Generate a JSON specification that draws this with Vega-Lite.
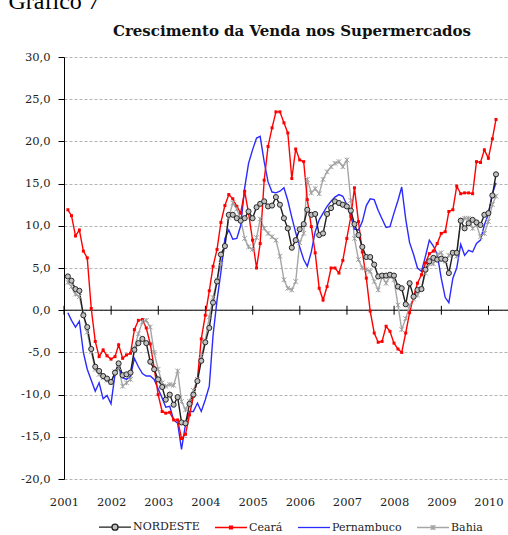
{
"$schema": "https://vega.github.io/schema/vega-lite/v6.json",
"width": 444, "height": 422,
"autosize": "none",
"padding": {"left": 64, "top": 57, "right": 0, "bottom": 56},
"background": "white",
"config": {"view": {"stroke": null}, "font": "DejaVu Serif"},
"title": {"text": "Crescimento da Venda nos Supermercados", "font": "DejaVu Serif", "fontSize": 15, "fontWeight": "bold", "color": "#111", "anchor": "middle", "dx": 6, "offset": -50},
"data": {"values": [
{"d":"2001-01-31","NORDESTE":4.0,"Ceará":11.9,"Pernambuco":-0.3,"Bahia":3.3},
{"d":"2001-02-28","NORDESTE":3.5,"Ceará":11.2,"Pernambuco":-1.2,"Bahia":2.8},
{"d":"2001-03-31","NORDESTE":2.5,"Ceará":8.8,"Pernambuco":-2.0,"Bahia":1.9},
{"d":"2001-04-30","NORDESTE":2.3,"Ceará":9.5,"Pernambuco":-1.3,"Bahia":1.6},
{"d":"2001-05-31","NORDESTE":-0.6,"Ceará":7.0,"Pernambuco":-5.0,"Bahia":-0.5},
{"d":"2001-06-30","NORDESTE":-2.0,"Ceará":6.2,"Pernambuco":-7.0,"Bahia":-2.6},
{"d":"2001-07-31","NORDESTE":-4.6,"Ceará":0.2,"Pernambuco":-8.3,"Bahia":-4.9},
{"d":"2001-08-31","NORDESTE":-6.7,"Ceará":-3.7,"Pernambuco":-9.6,"Bahia":-7.0},
{"d":"2001-09-30","NORDESTE":-7.2,"Ceará":-5.5,"Pernambuco":-8.6,"Bahia":-7.6},
{"d":"2001-10-31","NORDESTE":-7.8,"Ceará":-4.7,"Pernambuco":-10.5,"Bahia":-8.0},
{"d":"2001-11-30","NORDESTE":-8.1,"Ceará":-5.4,"Pernambuco":-10.1,"Bahia":-8.3},
{"d":"2001-12-31","NORDESTE":-8.5,"Ceará":-5.8,"Pernambuco":-11.1,"Bahia":-8.6},
{"d":"2002-01-31","NORDESTE":-7.4,"Ceará":-5.5,"Pernambuco":-7.6,"Bahia":-7.3},
{"d":"2002-02-28","NORDESTE":-6.3,"Ceará":-4.1,"Pernambuco":-6.7,"Bahia":-6.8},
{"d":"2002-03-31","NORDESTE":-7.7,"Ceará":-5.7,"Pernambuco":-8.0,"Bahia":-9.0},
{"d":"2002-04-30","NORDESTE":-7.6,"Ceará":-5.3,"Pernambuco":-8.2,"Bahia":-8.6},
{"d":"2002-05-31","NORDESTE":-7.4,"Ceará":-5.1,"Pernambuco":-7.8,"Bahia":-8.2},
{"d":"2002-06-30","NORDESTE":-4.7,"Ceará":-2.3,"Pernambuco":-5.7,"Bahia":-4.5},
{"d":"2002-07-31","NORDESTE":-3.9,"Ceará":-1.2,"Pernambuco":-6.7,"Bahia":-2.8},
{"d":"2002-08-31","NORDESTE":-3.4,"Ceará":-1.1,"Pernambuco":-7.5,"Bahia":-1.4},
{"d":"2002-09-30","NORDESTE":-3.9,"Ceará":-2.1,"Pernambuco":-7.8,"Bahia":-1.2},
{"d":"2002-10-31","NORDESTE":-6.1,"Ceará":-4.0,"Pernambuco":-7.8,"Bahia":-2.0},
{"d":"2002-11-30","NORDESTE":-7.0,"Ceará":-6.8,"Pernambuco":-8.2,"Bahia":-5.0},
{"d":"2002-12-31","NORDESTE":-8.2,"Ceará":-10.0,"Pernambuco":-9.3,"Bahia":-7.0},
{"d":"2003-01-31","NORDESTE":-9.1,"Ceará":-12.0,"Pernambuco":-10.4,"Bahia":-8.6},
{"d":"2003-02-28","NORDESTE":-10.6,"Ceará":-12.2,"Pernambuco":-11.5,"Bahia":-9.0},
{"d":"2003-03-31","NORDESTE":-10.0,"Ceará":-12.1,"Pernambuco":-11.4,"Bahia":-8.8},
{"d":"2003-04-30","NORDESTE":-11.2,"Ceará":-13.0,"Pernambuco":-13.0,"Bahia":-8.9},
{"d":"2003-05-31","NORDESTE":-10.3,"Ceará":-13.0,"Pernambuco":-13.4,"Bahia":-7.2},
{"d":"2003-06-30","NORDESTE":-13.3,"Ceará":-15.2,"Pernambuco":-16.5,"Bahia":-10.8},
{"d":"2003-07-31","NORDESTE":-13.4,"Ceará":-14.7,"Pernambuco":-13.5,"Bahia":-11.8},
{"d":"2003-08-31","NORDESTE":-11.1,"Ceará":-12.4,"Pernambuco":-12.0,"Bahia":-10.8},
{"d":"2003-09-30","NORDESTE":-10.0,"Ceará":-10.2,"Pernambuco":-12.0,"Bahia":-9.5},
{"d":"2003-10-31","NORDESTE":-8.4,"Ceará":-8.2,"Pernambuco":-11.0,"Bahia":-8.2},
{"d":"2003-11-30","NORDESTE":-6.0,"Ceará":-3.4,"Pernambuco":-12.0,"Bahia":-5.4},
{"d":"2003-12-31","NORDESTE":-3.8,"Ceará":-0.6,"Pernambuco":-10.6,"Bahia":-3.6},
{"d":"2004-01-31","NORDESTE":-2.1,"Ceará":2.3,"Pernambuco":-9.0,"Bahia":-0.8},
{"d":"2004-02-29","NORDESTE":0.9,"Ceará":5.2,"Pernambuco":-3.0,"Bahia":1.5},
{"d":"2004-03-31","NORDESTE":3.4,"Ceará":7.2,"Pernambuco":1.2,"Bahia":3.6},
{"d":"2004-04-30","NORDESTE":6.6,"Ceará":10.4,"Pernambuco":4.5,"Bahia":5.5},
{"d":"2004-05-31","NORDESTE":7.6,"Ceará":12.4,"Pernambuco":8.5,"Bahia":7.5},
{"d":"2004-06-30","NORDESTE":11.3,"Ceará":13.7,"Pernambuco":9.5,"Bahia":11.0},
{"d":"2004-07-31","NORDESTE":11.3,"Ceará":13.2,"Pernambuco":8.4,"Bahia":12.7},
{"d":"2004-08-31","NORDESTE":10.9,"Ceará":12.3,"Pernambuco":8.5,"Bahia":12.0},
{"d":"2004-09-30","NORDESTE":10.6,"Ceará":11.5,"Pernambuco":10.0,"Bahia":10.8},
{"d":"2004-10-31","NORDESTE":10.9,"Ceará":14.1,"Pernambuco":14.5,"Bahia":8.5},
{"d":"2004-11-30","NORDESTE":11.7,"Ceará":11.5,"Pernambuco":17.4,"Bahia":7.5},
{"d":"2004-12-31","NORDESTE":10.9,"Ceará":8.3,"Pernambuco":19.0,"Bahia":7.2},
{"d":"2005-01-31","NORDESTE":12.2,"Ceará":5.0,"Pernambuco":20.4,"Bahia":8.6},
{"d":"2005-02-28","NORDESTE":12.6,"Ceará":7.9,"Pernambuco":20.6,"Bahia":10.8},
{"d":"2005-03-31","NORDESTE":12.9,"Ceará":15.4,"Pernambuco":17.6,"Bahia":9.7},
{"d":"2005-04-30","NORDESTE":12.3,"Ceará":19.4,"Pernambuco":15.2,"Bahia":9.1},
{"d":"2005-05-31","NORDESTE":12.4,"Ceará":21.6,"Pernambuco":14.0,"Bahia":8.7},
{"d":"2005-06-30","NORDESTE":13.4,"Ceará":23.5,"Pernambuco":13.9,"Bahia":8.3},
{"d":"2005-07-31","NORDESTE":12.5,"Ceará":23.5,"Pernambuco":14.1,"Bahia":6.4},
{"d":"2005-08-31","NORDESTE":10.9,"Ceará":22.2,"Pernambuco":14.5,"Bahia":3.6},
{"d":"2005-09-30","NORDESTE":9.7,"Ceará":21.0,"Pernambuco":13.0,"Bahia":2.6},
{"d":"2005-10-31","NORDESTE":7.4,"Ceará":15.6,"Pernambuco":11.0,"Bahia":2.4},
{"d":"2005-11-30","NORDESTE":8.3,"Ceará":19.1,"Pernambuco":9.2,"Bahia":3.4},
{"d":"2005-12-31","NORDESTE":9.6,"Ceará":17.8,"Pernambuco":7.5,"Bahia":8.0},
{"d":"2006-01-31","NORDESTE":10.2,"Ceará":17.6,"Pernambuco":6.0,"Bahia":9.1},
{"d":"2006-02-28","NORDESTE":11.9,"Ceará":13.1,"Pernambuco":5.2,"Bahia":15.5},
{"d":"2006-03-31","NORDESTE":11.3,"Ceará":9.9,"Pernambuco":6.9,"Bahia":13.9},
{"d":"2006-04-30","NORDESTE":11.4,"Ceará":6.8,"Pernambuco":9.3,"Bahia":14.4},
{"d":"2006-05-31","NORDESTE":8.9,"Ceará":2.6,"Pernambuco":10.7,"Bahia":13.8},
{"d":"2006-06-30","NORDESTE":9.1,"Ceará":1.2,"Pernambuco":11.5,"Bahia":15.5},
{"d":"2006-07-31","NORDESTE":11.4,"Ceará":2.8,"Pernambuco":12.3,"Bahia":16.4},
{"d":"2006-08-31","NORDESTE":12.1,"Ceará":5.0,"Pernambuco":12.9,"Bahia":17.0},
{"d":"2006-09-30","NORDESTE":12.9,"Ceará":5.0,"Pernambuco":13.4,"Bahia":17.4},
{"d":"2006-10-31","NORDESTE":12.7,"Ceará":4.4,"Pernambuco":13.7,"Bahia":17.6},
{"d":"2006-11-30","NORDESTE":12.5,"Ceará":5.9,"Pernambuco":13.5,"Bahia":17.0},
{"d":"2006-12-31","NORDESTE":12.3,"Ceará":8.5,"Pernambuco":12.5,"Bahia":17.8},
{"d":"2007-01-31","NORDESTE":11.8,"Ceará":11.1,"Pernambuco":11.1,"Bahia":13.0},
{"d":"2007-02-28","NORDESTE":10.2,"Ceará":14.5,"Pernambuco":9.6,"Bahia":8.5},
{"d":"2007-03-31","NORDESTE":8.9,"Ceará":10.5,"Pernambuco":9.5,"Bahia":6.0},
{"d":"2007-04-30","NORDESTE":7.5,"Ceará":6.9,"Pernambuco":10.5,"Bahia":5.0},
{"d":"2007-05-31","NORDESTE":6.3,"Ceará":3.8,"Pernambuco":12.4,"Bahia":4.8},
{"d":"2007-06-30","NORDESTE":6.3,"Ceará":-0.1,"Pernambuco":13.2,"Bahia":4.6},
{"d":"2007-07-31","NORDESTE":5.4,"Ceará":-2.7,"Pernambuco":13.1,"Bahia":3.4},
{"d":"2007-08-31","NORDESTE":4.0,"Ceará":-3.8,"Pernambuco":11.8,"Bahia":2.4},
{"d":"2007-09-30","NORDESTE":4.1,"Ceará":-3.7,"Pernambuco":10.8,"Bahia":4.0},
{"d":"2007-10-31","NORDESTE":4.1,"Ceará":-1.9,"Pernambuco":9.8,"Bahia":3.2},
{"d":"2007-11-30","NORDESTE":4.2,"Ceará":-2.5,"Pernambuco":9.9,"Bahia":4.0},
{"d":"2007-12-31","NORDESTE":4.1,"Ceará":-3.9,"Pernambuco":11.5,"Bahia":3.6},
{"d":"2008-01-31","NORDESTE":2.8,"Ceará":-4.6,"Pernambuco":13.0,"Bahia":0.6},
{"d":"2008-02-29","NORDESTE":2.6,"Ceará":-5.0,"Pernambuco":14.6,"Bahia":-2.3},
{"d":"2008-03-31","NORDESTE":0.7,"Ceará":-2.7,"Pernambuco":10.8,"Bahia":-1.0},
{"d":"2008-04-30","NORDESTE":3.2,"Ceará":-0.3,"Pernambuco":8.0,"Bahia":0.5},
{"d":"2008-05-31","NORDESTE":1.6,"Ceará":1.6,"Pernambuco":6.6,"Bahia":1.3},
{"d":"2008-06-30","NORDESTE":2.4,"Ceará":3.2,"Pernambuco":5.0,"Bahia":1.8},
{"d":"2008-07-31","NORDESTE":2.5,"Ceará":4.2,"Pernambuco":4.6,"Bahia":2.6},
{"d":"2008-08-31","NORDESTE":4.8,"Ceará":5.6,"Pernambuco":6.4,"Bahia":4.4},
{"d":"2008-09-30","NORDESTE":5.8,"Ceará":6.7,"Pernambuco":8.3,"Bahia":5.5},
{"d":"2008-10-31","NORDESTE":6.2,"Ceará":7.0,"Pernambuco":7.6,"Bahia":5.5},
{"d":"2008-11-30","NORDESTE":6.0,"Ceará":7.9,"Pernambuco":6.6,"Bahia":6.6},
{"d":"2008-12-31","NORDESTE":6.1,"Ceará":9.1,"Pernambuco":3.8,"Bahia":6.8},
{"d":"2009-01-31","NORDESTE":6.0,"Ceará":9.3,"Pernambuco":1.5,"Bahia":5.8},
{"d":"2009-02-28","NORDESTE":4.4,"Ceará":11.7,"Pernambuco":0.9,"Bahia":6.5},
{"d":"2009-03-31","NORDESTE":6.8,"Ceará":11.9,"Pernambuco":3.8,"Bahia":6.8},
{"d":"2009-04-30","NORDESTE":6.8,"Ceará":14.7,"Pernambuco":5.0,"Bahia":6.4},
{"d":"2009-05-31","NORDESTE":10.6,"Ceará":13.8,"Pernambuco":7.8,"Bahia":10.7},
{"d":"2009-06-30","NORDESTE":9.7,"Ceará":13.9,"Pernambuco":6.5,"Bahia":10.9},
{"d":"2009-07-31","NORDESTE":10.3,"Ceará":13.9,"Pernambuco":7.1,"Bahia":10.9},
{"d":"2009-08-31","NORDESTE":10.7,"Ceará":13.8,"Pernambuco":6.9,"Bahia":9.7},
{"d":"2009-09-30","NORDESTE":10.4,"Ceará":17.6,"Pernambuco":7.9,"Bahia":10.1},
{"d":"2009-10-31","NORDESTE":10.1,"Ceará":17.5,"Pernambuco":8.3,"Bahia":8.7},
{"d":"2009-11-30","NORDESTE":11.3,"Ceará":19.0,"Pernambuco":10.1,"Bahia":9.1},
{"d":"2009-12-31","NORDESTE":11.5,"Ceará":18.0,"Pernambuco":11.4,"Bahia":10.5},
{"d":"2010-01-31","NORDESTE":13.6,"Ceará":20.3,"Pernambuco":13.8,"Bahia":12.5},
{"d":"2010-02-28","NORDESTE":16.1,"Ceará":22.6,"Pernambuco":15.1,"Bahia":13.5}
]},
"transform": [{"fold": ["Bahia", "Pernambuco", "Ceará", "NORDESTE"], "as": ["serie", "valor"]}],
"layer": [
{
"data": {"values": [{}]},
"mark": {"type": "rule", "color": "#000", "strokeWidth": 1},
"encoding": {"y": {"datum": 0, "type": "quantitative"}}
},
{
"data": {"values": [{"ano":"2001-01-01"},{"ano":"2002-01-01"},{"ano":"2003-01-01"},{"ano":"2004-01-01"},{"ano":"2005-01-01"},{"ano":"2006-01-01"},{"ano":"2007-01-01"},{"ano":"2008-01-01"},{"ano":"2009-01-01"},{"ano":"2010-01-01"}]},
"mark": {"type": "tick", "orient": "vertical", "color": "#000", "size": 9, "thickness": 1, "opacity": 1},
"encoding": {
"x": {"field": "ano", "type": "temporal"},
"y": {"datum": 0, "type": "quantitative"}
}
},
{
"mark": {"type": "line", "strokeWidth": 1.4},
"encoding": {
"x": {"field": "d", "type": "temporal",
"scale": {"type": "utc", "domain": [{"year": 2001, "month": 1, "date": 1, "utc": true}, {"year": 2010, "month": 6, "date": 1, "utc": true}]},
"axis": {"format": "%Y", "tickCount": "year", "domain": false, "ticks": false, "grid": false, "labelPadding": 17, "labelFont": "DejaVu Serif", "labelFontSize": 11.5, "labelColor": "#222", "title": null, "labelFlush": false, "labelOverlap": false}},
"y": {"field": "valor", "type": "quantitative",
"scale": {"domain": [-20, 30], "nice": false, "zero": false},
"axis": {"values": [-20, -15, -10, -5, 0, 5, 10, 15, 20, 25, 30],
"labelExpr": "replace(replace(format(datum.value, '.1f'), '.', ','), '−', '-')",
"labelFont": "DejaVu Serif", "labelFontSize": 11.5, "labelColor": "#222", "labelPadding": 8,
"tickSize": 6, "tickColor": "#000", "domainColor": "#000",
"grid": true, "gridColor": "#b4b4b4", "gridDash": [3, 2],
"title": "Gráfico 7", "titleAngle": 0, "titleX": -56, "titleY": -49, "titleAlign": "left", "titleBaseline": "alphabetic",
"titleFont": "Liberation Serif", "titleFontSize": 24, "titleFontWeight": "normal", "titleColor": "#000"}},
"color": {"field": "serie", "type": "nominal",
"scale": {"domain": ["NORDESTE", "Ceará", "Pernambuco", "Bahia"], "range": ["#1f1f1f", "#ff0000", "#2b2bff", "#a6a6a6"]},
"legend": {"orient": "none", "legendX": 34, "legendY": 453, "direction": "horizontal", "title": null,
"labelFont": "DejaVu Serif", "labelFontSize": 11, "labelColor": "#222",
"symbolSize": 1024, "symbolStrokeWidth": 1.3, "columnPadding": 12, "labelOffset": 1,
"encode": {"symbols": {"update": {
"shape": {"signal": "datum.value === 'NORDESTE' ? 'M-1,0H-0.19M0.19,0H1M-0.19,0A0.19,0.19,0,1,1,0.19,0A0.19,0.19,0,1,1,-0.19,0Z' : datum.value === 'Ceará' ? 'M-1,0H1M-0.09,-0.09H0.09V0.09H-0.09Z' : datum.value === 'Bahia' ? 'M-1,0H1M-0.15,-0.15L0.15,0.15M-0.15,0.15L0.15,-0.15M0,-0.15V0.15' : 'M-1,0H1'"},
"fill": {"signal": "datum.value === 'NORDESTE' ? '#c0c0c0' : datum.value === 'Ceará' ? '#ff0000' : 'transparent'"}
}}}}
}
}
},
{
"transform": [{"filter": "datum.serie === 'Ceará'"}],
"mark": {"type": "square", "filled": true, "color": "#ff0000", "size": 9, "opacity": 1},
"encoding": {
"x": {"field": "d", "type": "temporal"},
"y": {"field": "valor", "type": "quantitative"}
}
},
{
"transform": [{"filter": "datum.serie === 'Bahia'"}],
"mark": {"type": "point", "shape": "M-1,-1L1,1M-1,1L1,-1M0,-1L0,1", "filled": false, "stroke": "#a0a0a0", "strokeWidth": 1, "size": 22, "opacity": 1},
"encoding": {
"x": {"field": "d", "type": "temporal"},
"y": {"field": "valor", "type": "quantitative"}
}
},
{
"transform": [{"filter": "datum.serie === 'NORDESTE'"}],
"mark": {"type": "point", "shape": "circle", "filled": true, "fill": "#c0c0c0", "stroke": "#262626", "strokeWidth": 1, "size": 26, "opacity": 1},
"encoding": {
"x": {"field": "d", "type": "temporal"},
"y": {"field": "valor", "type": "quantitative"}
}
}
]
}
